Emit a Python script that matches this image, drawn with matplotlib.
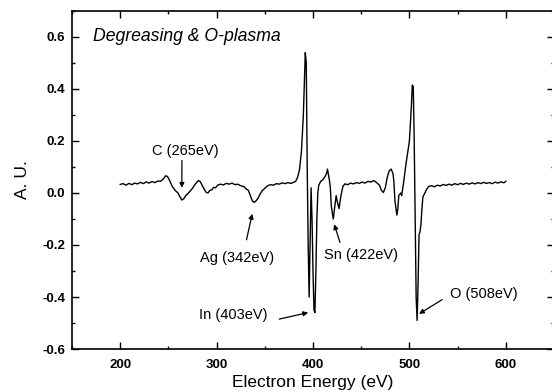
import matplotlib
matplotlib.use("Agg")
import matplotlib.pyplot as plt
from matplotlib.ticker import MultipleLocator

plt.rcParams['font.family'] = ['Liberation Sans', 'DejaVu Sans']

energy = [200, 203, 206, 209, 212, 215, 218, 221, 224, 227, 230, 233, 236, 239, 242, 245, 247, 249,
          251, 254, 257, 260, 262, 264, 266, 268, 270, 272, 275, 278, 281, 283, 285, 287, 289, 291,
          293, 295, 297, 299, 301, 304, 307, 310, 313, 316, 319, 322, 325, 328, 331, 333, 335, 337,
          339, 341, 343, 345, 347, 350, 353, 356, 359, 362, 365, 368, 371, 374, 377, 380, 382, 384,
          386, 388, 390, 391, 392, 393, 394, 395, 396, 397, 398, 399, 400, 401, 402, 403, 404, 405,
          406, 408, 410, 412, 414, 415, 416, 417, 418, 419, 421, 423, 424, 425, 427, 429, 431, 433,
          436, 439, 442, 445, 448, 451, 454, 457, 460, 463, 466, 469, 471, 473, 475, 477, 479, 481,
          483, 484, 485, 487, 488, 489, 491, 492, 494, 496, 498, 500, 502, 503, 504, 505, 506, 507,
          508, 509, 510, 511, 512, 513, 514, 516, 518, 520, 523, 526, 529, 532, 535, 538, 541, 544,
          547, 550, 553, 556, 559, 562, 565, 568, 571, 574, 577, 580, 583, 586, 589, 592, 595, 598, 600]
signal = [0.033, 0.036, 0.030, 0.037, 0.032, 0.038, 0.035, 0.041, 0.036, 0.043, 0.038, 0.044, 0.040,
          0.046, 0.045, 0.055, 0.066, 0.064, 0.050, 0.025, 0.010, 0.000, -0.015, -0.027, -0.022,
          -0.010, -0.003, 0.005, 0.018, 0.035, 0.048, 0.044, 0.030, 0.015, 0.003, 0.000, 0.010,
          0.012, 0.022, 0.020, 0.030, 0.034, 0.031, 0.037, 0.034, 0.038, 0.032, 0.034, 0.028, 0.025,
          0.015, 0.010, -0.010, -0.030, -0.036, -0.030, -0.020, -0.005, 0.008, 0.018, 0.028, 0.032,
          0.030, 0.036, 0.034, 0.039, 0.036, 0.040, 0.037, 0.041, 0.045, 0.060, 0.090, 0.160, 0.300,
          0.420, 0.540, 0.500, 0.100, -0.200, -0.400, -0.200, 0.020, -0.100, -0.300, -0.450, -0.460,
          -0.300, -0.100, 0.000, 0.030, 0.045, 0.050, 0.060, 0.075, 0.092, 0.070, 0.050, 0.020,
          -0.050, -0.100, -0.040, -0.010, -0.030, -0.060, -0.010, 0.025, 0.035, 0.032, 0.038, 0.035,
          0.040, 0.037, 0.042, 0.038, 0.045, 0.042, 0.048, 0.040, 0.030, 0.010, 0.002, 0.020, 0.060,
          0.085, 0.092, 0.075, 0.040, -0.030, -0.085, -0.060, -0.010, 0.000, -0.010, 0.040, 0.100,
          0.150, 0.200, 0.330, 0.415, 0.410, 0.200, -0.100, -0.400, -0.490, -0.350, -0.160, -0.150,
          -0.120, -0.060, -0.015, 0.000, 0.015, 0.025, 0.028, 0.024, 0.030, 0.027, 0.033, 0.029,
          0.034, 0.030, 0.036, 0.032, 0.037, 0.033, 0.038, 0.034, 0.039, 0.035, 0.040, 0.036, 0.041,
          0.037, 0.040, 0.036, 0.042, 0.038, 0.043, 0.039, 0.045]

xticks = [200, 300, 400, 500, 600]
xtick_labels = ['200', '300', '400', '500', '600']
yticks = [-0.6, -0.4, -0.2, 0.0, 0.2, 0.4, 0.6]
ytick_labels = ['-0.6', '-0.4', '-0.2', '0.0', '0.2', '0.4', '0.6']

title_text = "Degreasing & O-plasma"
labels = ["C (265eV)", "Ag (342eV)", "In (403eV)", "Sn (422eV)", "O (508eV)"]
label_xy = [(268, 0.16), (321, -0.25), (317, -0.47), (450, -0.24), (577, -0.39)]
arrow_tail = [(264, 0.125), (331, -0.18), (365, -0.485), (428, -0.19), (534, -0.41)]
arrow_tip = [(264, 0.02), (337, -0.08), (395, -0.46), (422, -0.12), (510, -0.465)]

fig = plt.figure(figsize=(5.52, 3.92), dpi=100)
ax = fig.add_axes([72/552, 1-349/392, (554-72)/552, (349-11)/392])
ax.plot(energy, signal, color='black', lw=1.0)
ax.set_xlim(150, 650)
ax.set_ylim(-0.6, 0.7)
ax.set_xticks(xticks)
ax.set_xticklabels(xtick_labels, fontweight='bold')
ax.set_yticks(yticks)
ax.set_yticklabels(ytick_labels, fontweight='bold')
ax.xaxis.set_minor_locator(MultipleLocator(50))
ax.yaxis.set_minor_locator(MultipleLocator(0.1))
ax.tick_params(which='both', direction='in', top=True, right=True, width=1.0)
ax.tick_params(which='major', length=5, labelsize=9.5)
ax.tick_params(axis='x', which='major', pad=7)
ax.tick_params(axis='y', which='major', pad=5)
ax.tick_params(which='minor', length=2.5)
for s in ax.spines.values():
    s.set_linewidth(1.2)

ax.set_xlabel("Electron Energy (eV)", fontsize=12.5, labelpad=3)
ax.set_ylabel("A. U.", fontsize=12.5, labelpad=9)
ax.text(172, 0.6, title_text, fontsize=12.7, style='italic', ha='left', va='center')

for lab, (lx, ly), (tx, ty), (hx, hy) in zip(labels, label_xy, arrow_tail, arrow_tip):
    ax.text(lx, ly, lab, fontsize=10.5, ha='center', va='center')
    ax.annotate('', xy=(hx, hy), xytext=(tx, ty),
                arrowprops=dict(arrowstyle='-|>', color='black', lw=0.9,
                                mutation_scale=7, shrinkA=0, shrinkB=0))

fig.savefig("out.png", dpi=100)
